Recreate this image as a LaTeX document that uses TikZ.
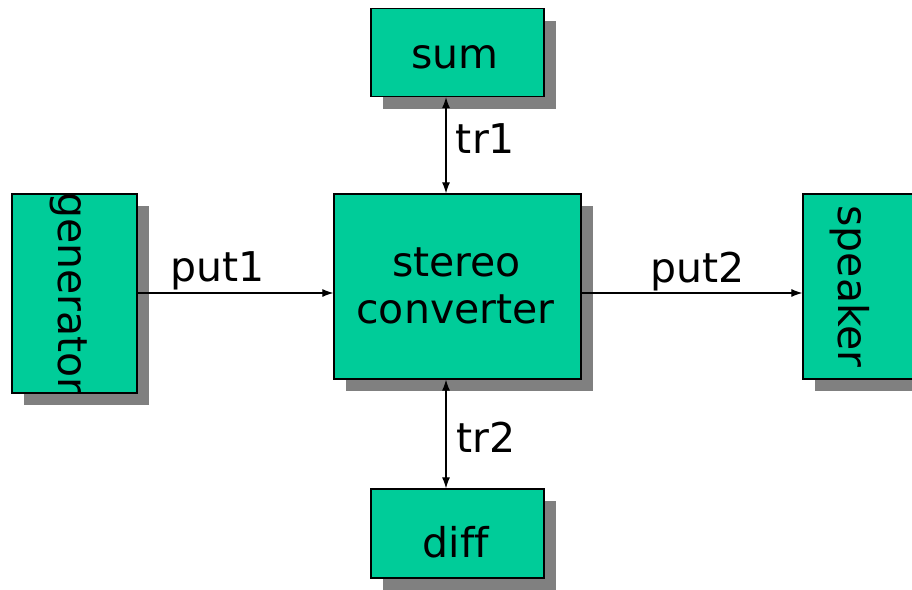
\documentclass[tikz,border=0pt]{standalone}
\usepackage{fontspec}
\setmainfont{DejaVu Sans}[Ligatures=NoCommon]
\usetikzlibrary{arrows.meta,shadows}
\definecolor{boxgreen}{RGB}{0,204,153}
\definecolor{shadowgray}{RGB}{128,128,128}
\begin{document}
\begin{tikzpicture}[x=1pt,y=-1pt,
  block/.style={draw=black, line width=1.3pt, fill=boxgreen, inner sep=0pt,
    drop shadow={shadow xshift=12pt, shadow yshift=-12pt, fill=shadowgray, opacity=1}},
  txt/.style={font=\fontsize{41}{47}\selectfont, inner sep=0pt, anchor=base},
  link/.style={line width=1.1pt, -{Latex[length=11pt,width=8pt]}},
  dlink/.style={line width=1.1pt, {Latex[length=11pt,width=8pt]}-{Latex[length=11pt,width=8pt]}}]
\useasboundingbox (0,0) rectangle (912,589);
\clip (0,0) rectangle (912,589);
% boxes
\node[block, minimum width=173pt, minimum height=88pt] (sum) at (457.5,52.5) {};
\node[block, minimum width=125pt, minimum height=199pt] (gen) at (74.5,293.5) {};
\node[block, minimum width=247pt, minimum height=185pt] (conv) at (457.5,286.5) {};
\node[block, minimum width=125pt, minimum height=185pt] (spk) at (865.5,286.5) {};
\node[block, minimum width=173pt, minimum height=89pt] (diff) at (457.5,533.5) {};
% box texts
\node[txt] (sumt) at (455,68) {sum};
\node[txt] (difft) at (456,557) {di\kern0pt f\kern0pt f};
\node[txt] (convta) at (456.5,276) {stereo};
\node[txt] (convtb) at (455.5,323) {converter};
\begin{scope}
  \clip (gen.north west) rectangle (gen.south east);
  \node[txt, rotate=-90] (gent) at (58,293.5) {generator};
\end{scope}
\node[txt, rotate=-90] (spkt) at (838,286.5) {speaker};
% connectors
\coordinate (rowy) at (0,293);
\coordinate (colx) at (446,0);
\draw[link] (gen.east |- rowy) -- (conv.west |- rowy);
\draw[link] (conv.east |- rowy) -- (spk.west |- rowy);
\draw[dlink] (sum.south -| colx) -- (conv.north -| colx);
\draw[dlink] (conv.south -| colx) -- (diff.north -| colx);
% connector labels
\node[txt] (put1) at (217.5,281) {put1};
\node[txt] (put2) at (697.5,282) {put2};
\node[txt] (tr1) at (485.5,153) {tr1};
\node[txt] (tr2) at (486,452) {tr2};
\end{tikzpicture}
\end{document}
